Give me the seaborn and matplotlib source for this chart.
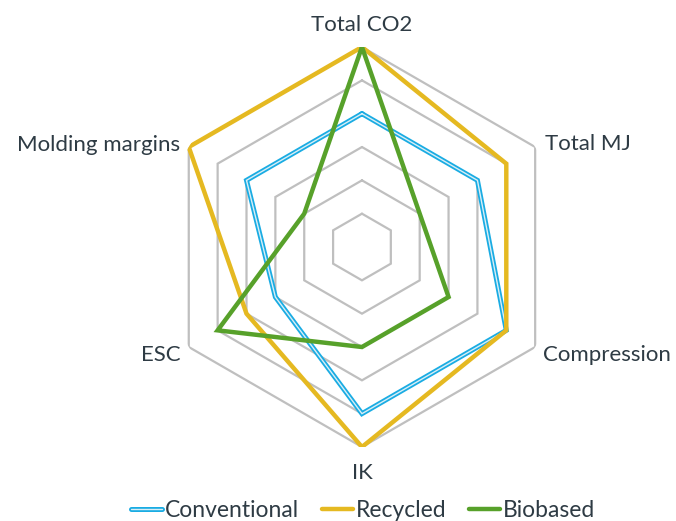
import numpy as np
import pandas as pd
import seaborn as sns
import matplotlib
matplotlib.use("Agg")
import matplotlib.pyplot as plt
import matplotlib.patheffects as pe
from matplotlib.lines import Line2D

# Criteria around the radar, clockwise from the top
categories = ["Total CO2", "Total MJ", "Compression", "IK", "ESC", "Molding margins"]

# Scores per material route (0-6 scale)
conventional = [4, 4, 5, 5, 3, 4]
recycled = [6, 5, 5, 6, 4, 6]
biobased = [6, 2, 3, 3, 5, 2]

series_names = ["Conventional", "Recycled", "Biobased"]
series_values = [conventional, recycled, biobased]

ring_levels = [1, 2, 3, 4, 5, 6]

colors = {"Conventional": "#1AACE3", "Recycled": "#E5B921", "Biobased": "#57A12A"}
text_color = "#2E3B44"
grid_color = "#BFBFBF"

sns.set_theme(style="white")
plt.rcParams["font.family"] = ["Lato", "DejaVu Sans"]

n = len(categories)
angles = np.arange(n) * 2 * np.pi / n

# Long-form table with each polygon closed back on its first vertex
rows = []
for name, vals in zip(series_names, series_values):
    for k in range(n + 1):
        rows.append({"series": name, "theta": angles[k % n], "value": vals[k % n], "order": k})
df = pd.DataFrame(rows)

fig = plt.figure(figsize=(6.76, 5.21), dpi=100)
ax = fig.add_axes([0.2396, 0.142, 0.5917, 0.7678], projection="polar")
ax.set_theta_zero_location("N")
ax.set_theta_direction(-1)
ax.set_ylim(0, 6)

# Hexagonal grid rings
closed = np.append(angles, angles[0])
for lvl in ring_levels:
    ax.plot(closed, [lvl] * (n + 1), color=grid_color, lw=1.6, zorder=1, solid_joinstyle="miter")

sns.lineplot(data=df, x="theta", y="value", hue="series", hue_order=series_names,
             palette=colors, sort=False, estimator=None, units="series",
             linewidth=3.2, legend=False, ax=ax, zorder=3)

# Conventional drawn as a double line: blue outline with a light core
conv_line = ax.lines[len(ring_levels)]
conv_line.set_color("#D9EEF6")
conv_line.set_linewidth(1.0)
conv_line.set_path_effects([pe.Stroke(linewidth=3.6, foreground=colors["Conventional"]), pe.Normal()])
for ln in ax.lines[len(ring_levels):]:
    ln.set_solid_joinstyle("miter")

ax.grid(False)
ax.spines["polar"].set_visible(False)
ax.set_xticks([])
ax.set_yticks([])
ax.set_xlabel("")
ax.set_ylabel("")
ax.set_facecolor("none")

# Category labels anchored at the outer ring vertex, offset in points
label_specs = {
    "Total CO2": dict(off=(0, 11.5), ha="center"),
    "Total MJ": dict(off=(7, -2.5), ha="left"),
    "Compression": dict(off=(6, -10), ha="left"),
    "IK": dict(off=(0, -23), ha="center"),
    "ESC": dict(off=(-5.5, -10), ha="right"),
    "Molding margins": dict(off=(-6.5, -2.8), ha="right"),
}
r_max = ring_levels[-1]
for cat, ang in zip(categories, angles):
    spec = label_specs[cat]
    ax.annotate(cat, xy=(ang, r_max), xytext=spec["off"], textcoords="offset points",
                ha=spec["ha"], va="baseline", fontsize=16, color=text_color,
                annotation_clip=False)

handles = [
    Line2D([], [], color="#D9EEF6", lw=1.0,
           path_effects=[pe.Stroke(linewidth=3.6, foreground=colors["Conventional"]), pe.Normal()]),
    Line2D([], [], color=colors["Recycled"], lw=3.2),
    Line2D([], [], color=colors["Biobased"], lw=3.2),
]
fig.legend(handles, series_names, loc="center", bbox_to_anchor=(0.537, 0.02),
           ncol=3, frameon=False, fontsize=16.5, handlelength=1.35, handletextpad=0.12,
           columnspacing=1.0, labelcolor=text_color)

fig.savefig("out.png", dpi=100, facecolor="white")
